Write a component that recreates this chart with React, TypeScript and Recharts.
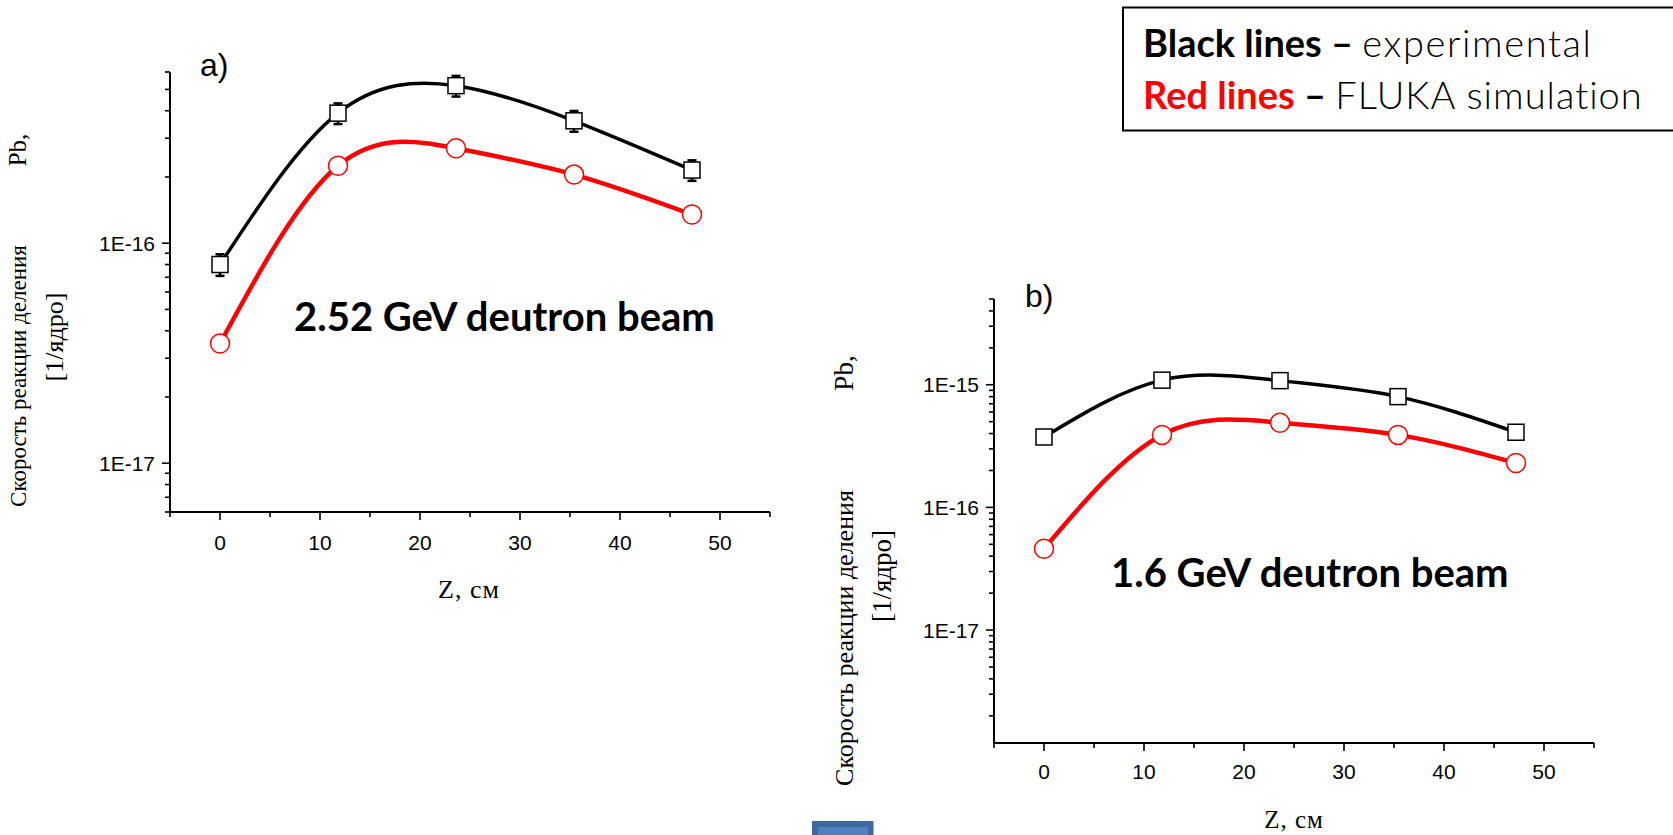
import React from 'react'
import { LineChart, Line, XAxis, YAxis, ErrorBar } from 'recharts'

// Position along the target, cm
const Z_CM = [0, 11.8, 23.6, 35.4, 47.2]

// a) 2.52 GeV deuteron beam, fission rate per nucleus
const EXP_252 = [8.0e-17, 3.9e-16, 5.2e-16, 3.6e-16, 2.15e-16]
const EXP_252_ERR = [9e-18, 4.2e-17, 5.6e-17, 3.9e-17, 2.3e-17]
const FLUKA_252 = [3.5e-17, 2.25e-16, 2.7e-16, 2.05e-16, 1.35e-16]

// b) 1.6 GeV deuteron beam
const EXP_16 = [3.75e-16, 1.09e-15, 1.08e-15, 8.0e-16, 4.1e-16]
const FLUKA_16 = [4.6e-17, 3.9e-16, 4.9e-16, 3.9e-16, 2.3e-16]

const X_TICKS = [-5, 0, 5, 10, 15, 20, 25, 30, 35, 40, 45, 50, 55]
const X_LABELED = [0, 10, 20, 30, 40, 50]

const A_Y_DOMAIN: [number, number] = [6e-18, 6e-16]
const A_DECADES = [1e-18, 1e-17, 1e-16]
const B_Y_DOMAIN: [number, number] = [1.2e-18, 5e-15]
const B_DECADES = [1e-18, 1e-17, 1e-16, 1e-15]

const MANTISSAS = [1, 2, 3, 4, 5, 6, 7, 8, 9]

const SANS = '"Liberation Sans", Arial, sans-serif'
const SERIF = '"Liberation Serif", "Times New Roman", serif'
const CAL = 'Lato, "Open Sans", sans-serif'

function logTicks(decades: number[], [lo, hi]: [number, number]) {
  return decades
    .flatMap((d) => MANTISSAS.map((m) => m * d))
    .filter((v) => v >= lo * 0.999 && v <= hi * 1.001)
}

const isDecade = (v: number) => {
  const l = Math.log10(v)
  return Math.abs(l - Math.round(l)) < 1e-6
}

function XTick(props: any) {
  const { x, y, payload, labelDy } = props
  const major = X_LABELED.includes(payload.value)
  return (
    <g>
      <line x1={x} x2={x} y1={y} y2={y + (major ? 8 : 5)} stroke="#000" strokeWidth={1.6} />
      {major && (
        <text x={x} y={y + labelDy} textAnchor="middle" fontSize={21} fontFamily={SANS} fill="#000">
          {payload.value}
        </text>
      )}
    </g>
  )
}

function YTick(props: any) {
  const { x, y, payload } = props
  const major = isDecade(payload.value)
  return (
    <g>
      <line x1={x} x2={x - (major ? 8 : 5)} y1={y} y2={y} stroke="#000" strokeWidth={1.6} />
      {major && (
        <text x={x - 15} y={y + 7.5} textAnchor="end" fontSize={21} fontFamily={SANS} fill="#000">
          {`1E${Math.round(Math.log10(payload.value))}`}
        </text>
      )}
    </g>
  )
}

const squareDot = (p: any) => (
  <rect key={`s${p.index}`} x={p.cx - 8} y={p.cy - 8} width={16} height={16} fill="#fff" stroke="#000" strokeWidth={1.5} />
)
const circleDot = (p: any) => (
  <circle key={`c${p.index}`} cx={p.cx} cy={p.cy} r={9.5} fill="#fff" stroke="#ff0000" strokeWidth={1.5} />
)

const rowsA = Z_CM.map((z, i) => ({ z, exp: EXP_252[i], err: EXP_252_ERR[i], fluka: FLUKA_252[i] }))
const rowsB = Z_CM.map((z, i) => ({ z, exp: EXP_16[i], fluka: FLUKA_16[i] }))

function Panel(props: {
  rows: any[]
  domain: [number, number]
  decades: number[]
  width: number
  height: number
  margin: any
  yWidth: number
  xHeight: number
  labelDy: number
  withErrors?: boolean
}) {
  const { rows, domain, decades, width, height, margin, yWidth, xHeight, labelDy, withErrors } = props
  return (
    <LineChart width={width} height={height} data={rows} margin={margin}>
      <XAxis
        type="number"
        dataKey="z"
        domain={[-5, 55]}
        ticks={X_TICKS}
        interval={0}
        height={xHeight}
        tickSize={0}
        tickMargin={0}
        tickLine={false}
        axisLine={{ stroke: '#000', strokeWidth: 2 }}
        tick={(p: any) => <XTick {...p} labelDy={labelDy} />}
        allowDataOverflow
      />
      <YAxis
        type="number"
        scale="log"
        domain={domain}
        ticks={logTicks(decades, domain)}
        interval={0}
        width={yWidth}
        tickSize={0}
        tickMargin={0}
        tickLine={false}
        axisLine={{ stroke: '#000', strokeWidth: 2 }}
        tick={(p: any) => <YTick {...p} />}
        allowDataOverflow
      />
      <Line
        type="natural"
        dataKey="fluka"
        stroke="#ff0000"
        strokeWidth={4.5}
        dot={circleDot}
        activeDot={false}
        isAnimationActive={false}
      />
      <Line
        type="natural"
        dataKey="exp"
        stroke="#000"
        strokeWidth={3.5}
        dot={squareDot}
        activeDot={false}
        isAnimationActive={false}
      >
        {withErrors && <ErrorBar dataKey="err" width={4.5} strokeWidth={2.5} stroke="#000" direction="y" />}
      </Line>
    </LineChart>
  )
}

function YTitle({ x, yMain, mainSize, yPb, pbSize, xUnit, yUnit, unitSize }: any) {
  return (
    <g fontFamily={SERIF} fill="#000">
      <text x={x} y={yMain} fontSize={mainSize} textAnchor="middle" transform={`rotate(-90 ${x} ${yMain})`}>
        Скорость реакции деления
      </text>
      <text x={x} y={yPb} fontSize={pbSize} textAnchor="middle" transform={`rotate(-90 ${x} ${yPb})`}>
        Pb,
      </text>
      <text x={xUnit} y={yUnit} fontSize={unitSize} textAnchor="middle" transform={`rotate(-90 ${xUnit} ${yUnit})`}>
        [1/ядро]
      </text>
    </g>
  )
}

export default function App() {
  return (
    <div style={{ position: 'absolute', left: 0, top: 0, width: 1673, height: 835, background: '#fff', overflow: 'hidden' }}>
      <div style={{ position: 'absolute', left: 0, top: 0 }}>
        <Panel
          rows={rowsA}
          domain={A_Y_DOMAIN}
          decades={A_DECADES}
          width={800}
          height={620}
          margin={{ top: 72, right: 30, bottom: 0, left: 0 }}
          yWidth={170}
          xHeight={108}
          labelDy={38}
          withErrors
        />
      </div>
      <div style={{ position: 'absolute', left: 830, top: 240 }}>
        <Panel
          rows={rowsB}
          domain={B_Y_DOMAIN}
          decades={B_DECADES}
          width={800}
          height={595}
          margin={{ top: 59, right: 36, bottom: 0, left: 0 }}
          yWidth={164}
          xHeight={92}
          labelDy={36}
        />
      </div>
      <svg width={1673} height={835} style={{ position: 'absolute', left: 0, top: 0, pointerEvents: 'none' }}>
        <text x={200} y={76} fontFamily={SANS} fontSize={32}>a)</text>
        <text x={1025} y={307} fontFamily={SANS} fontSize={32}>b)</text>

        <text x={294} y={331} fontFamily={CAL} fontWeight={700} fontSize={40}>2.52 GeV deutron beam</text>
        <text x={1111} y={587} fontFamily={CAL} fontWeight={700} fontSize={40}>1.6 GeV deutron beam</text>

        <YTitle x={26} yMain={376} mainSize={23} yPb={150} pbSize={25} xUnit={63} yUnit={337} unitSize={26} />
        <YTitle x={853} yMain={638} mainSize={26} yPb={373} pbSize={27} xUnit={891} yUnit={576} unitSize={27} />

        <text x={469} y={598} textAnchor="middle" fontFamily={SERIF} fontSize={26} letterSpacing={1}>Z, см</text>
        <text x={1294} y={828} textAnchor="middle" fontFamily={SERIF} fontSize={25} letterSpacing={1}>Z, см</text>

        <rect x={1123} y={7.5} width={600} height={123} fill="#fff" stroke="#000" strokeWidth={2} />
        <text x={1143} y={57} fontFamily={CAL} fontSize={38}>
          <tspan fontWeight={700}>Black lines</tspan>
          <tspan fontWeight={700}> – </tspan>
          <tspan fontWeight={300} letterSpacing={1.6}>experimental</tspan>
        </text>
        <text x={1143} y={108.5} fontFamily={CAL} fontSize={38}>
          <tspan fontWeight={700} fill="#ff0000">Red lines</tspan>
          <tspan fontWeight={700}> – </tspan>
          <tspan fontWeight={300} letterSpacing={1}>FLUKA simulation</tspan>
        </text>

        <rect x={812} y={821} width={61.5} height={20} fill="#41679f" />
        <rect x={818} y={827} width={50} height={20} fill="#4f80bf" />
      </svg>
    </div>
  )
}
